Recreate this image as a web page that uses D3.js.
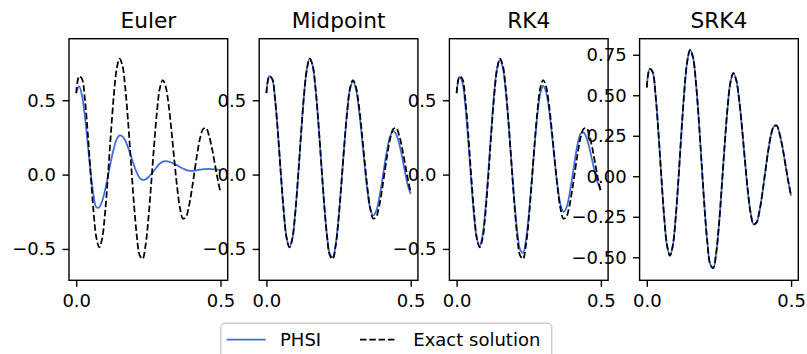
<html>
<head>
<meta charset="utf-8">
<script src="https://cdn.jsdelivr.net/npm/d3@7"></script>
<style>
  body { margin: 0; background: white; }
  text { font-family: "DejaVu Sans", sans-serif; fill: black; }
</style>
</head>
<body>
<svg width="807" height="354"></svg>
<script>
// time samples (s)
const t = d3.range(51).map(i => i / 100);

// values
const exact = [0.548, 0.662, 0.644, 0.507, 0.278, 0.006, -0.247, -0.426, -0.490, -0.429,
  -0.257, -0.008, 0.271, 0.526, 0.707, 0.780, 0.735, 0.583, 0.351, 0.076,
  -0.193, -0.412, -0.544, -0.567, -0.480, -0.300, -0.058, 0.199, 0.426, 0.582,
  0.636, 0.593, 0.473, 0.297, 0.098, -0.089, -0.229, -0.296, -0.286, -0.219,
  -0.110, 0.020, 0.149, 0.251, 0.307, 0.313, 0.263, 0.181, 0.077, -0.029, -0.120];

const euler = [0.547, 0.595, 0.532, 0.391, 0.205, 0.014, -0.139, -0.220, -0.220, -0.178,
  -0.104, -0.011, 0.087, 0.174, 0.237, 0.264, 0.257, 0.228, 0.181, 0.123,
  0.065, 0.013, -0.022, -0.036, -0.032, -0.018, 0.003, 0.028, 0.053, 0.074,
  0.087, 0.090, 0.087, 0.081, 0.072, 0.062, 0.051, 0.041, 0.032, 0.027,
  0.025, 0.027, 0.030, 0.033, 0.036, 0.037, 0.038, 0.037, 0.035, 0.033, 0.031];

const midpoint = [0.548, 0.662, 0.644, 0.507, 0.278, 0.006, -0.247, -0.426, -0.490, -0.429,
  -0.257, -0.008, 0.271, 0.526, 0.707, 0.780, 0.735, 0.583, 0.351, 0.076,
  -0.193, -0.412, -0.535, -0.556, -0.470, -0.293, -0.053, 0.200, 0.424, 0.578,
  0.628, 0.577, 0.448, 0.267, 0.068, -0.109, -0.231, -0.275, -0.247, -0.168,
  -0.055, 0.072, 0.185, 0.264, 0.292, 0.270, 0.209, 0.121, 0.021, -0.072, -0.130];

const rk4 = [0.547, 0.655, 0.620, 0.469, 0.235, -0.029, -0.268, -0.429, -0.480, -0.407,
  -0.229, 0.022, 0.297, 0.543, 0.712, 0.772, 0.719, 0.567, 0.343, 0.082,
  -0.173, -0.378, -0.503, -0.527, -0.443, -0.275, -0.050, 0.189, 0.401, 0.546,
  0.597, 0.556, 0.442, 0.275, 0.089, -0.081, -0.202, -0.251, -0.226, -0.145,
  -0.027, 0.101, 0.211, 0.276, 0.284, 0.249, 0.181, 0.095, 0.009, -0.061, -0.100];

const srk4 = [0.548, 0.662, 0.644, 0.507, 0.278, 0.006, -0.247, -0.426, -0.490, -0.429,
  -0.257, -0.008, 0.271, 0.526, 0.707, 0.780, 0.735, 0.583, 0.351, 0.076,
  -0.193, -0.412, -0.544, -0.567, -0.480, -0.300, -0.058, 0.199, 0.426, 0.582,
  0.636, 0.593, 0.473, 0.297, 0.098, -0.089, -0.229, -0.296, -0.286, -0.219,
  -0.110, 0.020, 0.149, 0.251, 0.307, 0.313, 0.263, 0.181, 0.077, -0.029, -0.120];

const titles = ['Euler', 'Midpoint', 'RK4', 'SRK4'];
const phsi = [euler, midpoint, rk4, srk4];
const xTicks = [0.0, 0.5];
const yTicksA = [-0.5, 0.0, 0.5];
const yTicksB = [-0.5, -0.25, 0.0, 0.25, 0.5, 0.75];
const yDomA = [-0.711, 0.914];
const yDomB = [-0.642, 0.849];
const legendLabels = ['PHSI', 'Exact solution'];

const svg = d3.select('svg');
const top0 = 38.7, bottom0 = 280.3, w = 158.7;
const fs = '18px';
const blue = '#4169e1';

titles.forEach(function(title, i) {
  const left = 69 + i * 190.2;
  const x = d3.scaleLinear().domain([-0.025, 0.525]).range([left, left + w]);
  const last = (i == 3);
  const y = d3.scaleLinear().domain(last ? yDomB : yDomA).range([bottom0, top0]);

  const g = svg.append('g');
  g.append('rect').attr('x', left).attr('y', top0).attr('width', w).attr('height', bottom0 - top0).attr('fill', 'white');

  const line = d3.line().x((d, j) => x(t[j])).y(d => y(d)).curve(d3.curveCatmullRom);
  g.append('path').datum(phsi[i]).attr('d', line)
    .attr('fill', 'none').attr('stroke', blue).attr('stroke-width', 1.75);
  g.append('path').datum(exact).attr('d', line)
    .attr('fill', 'none').attr('stroke', 'black').attr('stroke-width', 1.75)
    .attr('stroke-dasharray', '6.5,2.8');

  // spines
  g.append('rect').attr('x', left).attr('y', top0).attr('width', w).attr('height', bottom0 - top0)
    .attr('fill', 'none').attr('stroke', 'black').attr('stroke-width', 1.4);

  // axes
  const xa = g.append('g').attr('transform', 'translate(0,' + bottom0 + ')')
    .call(d3.axisBottom(x).tickValues(xTicks).tickSize(6.5).tickPadding(7).tickFormat(d3.format('.1f')));
  const ya = g.append('g').attr('transform', 'translate(' + left + ',0)')
    .call(d3.axisLeft(y).tickValues(last ? yTicksB : yTicksA).tickSize(6.5).tickPadding(6.5)
      .tickFormat(last ? d3.format('.2f') : d3.format('.1f')));
  [xa, ya].forEach(function(a) {
    a.select('.domain').remove();
    a.selectAll('line').attr('stroke', 'black').attr('stroke-width', 1.4);
    a.selectAll('text').style('font-size', fs).style('font-family', '"DejaVu Sans", sans-serif').attr('fill', 'black');
  });

  g.append('text').attr('x', left + w / 2).attr('y', 28).attr('text-anchor', 'middle')
    .style('font-size', '21.7px').text(title);
});

// legend
const lg = svg.append('g');
lg.append('rect').attr('x', 220.7).attr('y', 323.3).attr('width', 331).attr('height', 45).attr('rx', 4)
  .attr('fill', 'white').attr('stroke', '#cccccc').attr('stroke-width', 1.4);
lg.append('line').attr('x1', 226.7).attr('x2', 265.7).attr('y1', 339.5).attr('y2', 339.5)
  .attr('stroke', blue).attr('stroke-width', 1.75);
lg.append('text').attr('x', 280).attr('y', 345.5).style('font-size', fs).text(legendLabels[0]);
lg.append('line').attr('x1', 360).attr('x2', 397).attr('y1', 339.5).attr('y2', 339.5)
  .attr('stroke', 'black').attr('stroke-width', 1.75).attr('stroke-dasharray', '6.5,2.8');
lg.append('text').attr('x', 413.3).attr('y', 345.5).style('font-size', fs).text(legendLabels[1]);
</script>
</body>
</html>
